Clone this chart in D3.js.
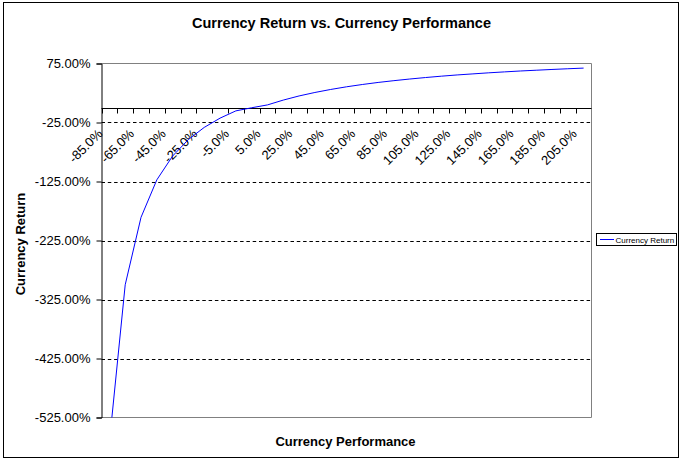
<!DOCTYPE html>
<html><head><meta charset="utf-8">
<script src="https://cdn.jsdelivr.net/npm/d3@7"></script>
<style>body{margin:0;background:#fff}svg{display:block}text{font-family:"Liberation Sans",Arial,sans-serif}</style>
</head><body><svg id="c" width="683" height="465"></svg>
<script>
const categories = [-85,-75,-65,-55,-45,-35,-25,-15,-5,0,5,15,25,35,45,55,65,75,85,95,105,115,125,135,145,155,165,175,185,195,205];
const currencyReturn = [-566.7,-300.0,-185.7,-122.2,-81.8,-53.8,-33.3,-17.6,-5.3,0.0,4.8,13.0,20.0,25.9,31.0,35.5,39.4,42.9,45.9,48.7,51.2,53.5,55.6,57.4,59.2,60.8,62.3,63.6,64.9,66.1,67.2];
const yTicks = [75,-25,-125,-225,-325,-425,-525];
const title = "Currency Return vs. Currency Performance";
const xTitle = "Currency Performance";
const yTitle = "Currency Return";
const seriesName = "Currency Return";

const loc = d3.formatLocale({decimal:".", thousands:",", grouping:[3], currency:["",""], minus:"-"});
const f2 = loc.format(".2f"), f1 = loc.format(".1f");

const svg = d3.select("#c");
const L = 101.5, R = 591.5, T = 63.5, B = 417.5;
const x = d3.scaleBand().domain(d3.range(categories.length)).range([L, R]).padding(0);
const y = d3.scaleLinear().domain([-525, 75]).range([B, T]);

// outer border
svg.append("rect").attr("x",3.5).attr("y",2.5).attr("width",675).attr("height",455)
  .attr("fill","#fff").attr("stroke","#000").attr("stroke-width",1);

// title
svg.append("text").attr("x",341.5).attr("y",28).attr("text-anchor","middle")
  .attr("font-size","14.5px").attr("font-weight","bold").text(title);

// gridlines
svg.append("g").selectAll("line").data(yTicks.filter(d => d !== 75 && d !== -525)).join("line")
  .attr("x1",L).attr("x2",R).attr("y1",d=>Math.round(y(d))+0.5).attr("y2",d=>Math.round(y(d))+0.5)
  .attr("stroke","#000").attr("stroke-dasharray","3.5,2.8").attr("stroke-width",1);

// plot border (gray)
svg.append("path").attr("d",`M${L},${T}H${R}V${B}H${L}`).attr("fill","none").attr("stroke","#808080");

// y axis
const yAxis = d3.axisLeft(y).tickValues(yTicks).tickSize(5).tickPadding(6)
  .tickFormat(d => f2(d) + "%");
const gy = svg.append("g").attr("transform",`translate(${L},0)`).call(yAxis);
gy.select(".domain").attr("stroke","#000");
gy.selectAll(".tick line").attr("stroke","#000");
gy.selectAll("text").attr("font-size","13px").attr("fill","#000").attr("font-family","Liberation Sans, Arial, sans-serif");

// x axis at zero
const y0 = Math.round(y(0)) + 0.5;
const gx = svg.append("g").attr("transform",`translate(0,${y0})`);
gx.append("line").attr("x1",L).attr("x2",R).attr("stroke","#000");
gx.selectAll("line.t").data(d3.range(categories.length)).join("line").attr("class","t")
  .attr("x1",d=>Math.round(x(d))+0.5).attr("x2",d=>Math.round(x(d))+0.5).attr("y1",0).attr("y2",5).attr("stroke","#000");
gx.selectAll("text").data(d3.range(0, categories.length, 2)).join("text")
  .attr("transform", d => `translate(${x(d)+x.bandwidth()/2-6},${26}) rotate(-45)`)
  .attr("text-anchor","end").attr("font-size","13px").attr("fill","#000")
  .text(d => f1(categories[d]) + "%");

// clip
svg.append("clipPath").attr("id","clip").append("rect").attr("x",L).attr("y",T).attr("width",R-L).attr("height",B-T);

// line
const line = d3.line().x((d,i)=>x(i)+x.bandwidth()/2).y(d=>y(d));
svg.append("path").datum(currencyReturn).attr("clip-path","url(#clip)")
  .attr("d",line).attr("fill","none").attr("stroke","#0000ff").attr("stroke-width",1);

// axis titles
svg.append("text").attr("x",345.5).attr("y",446).attr("text-anchor","middle")
  .attr("font-size","13px").attr("font-weight","bold").text(xTitle);
svg.append("text").attr("transform","translate(25,244) rotate(-90)").attr("text-anchor","middle")
  .attr("font-size","13px").attr("font-weight","bold").text(yTitle);

// legend
const lg = svg.append("g");
lg.append("rect").attr("x",596.5).attr("y",233.5).attr("width",80).attr("height",12).attr("fill","#fff").attr("stroke","#000");
lg.append("line").attr("x1",600).attr("x2",614).attr("y1",239.5).attr("y2",239.5).attr("stroke","#0000ff");
lg.append("text").attr("x",615.5).attr("y",242.5).attr("font-size","8px").text(seriesName);
</script></body></html>
